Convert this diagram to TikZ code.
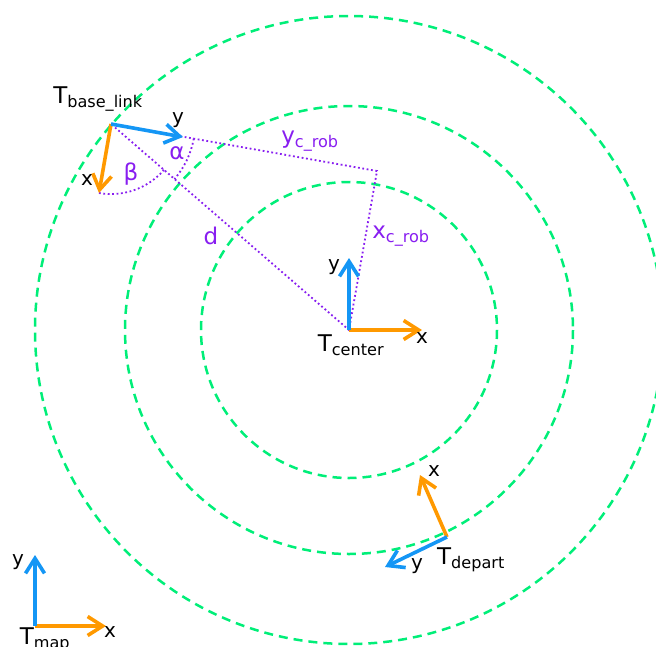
\documentclass[tikz,border=0pt]{standalone}
\usepackage{fontspec}
\setmainfont{DejaVu Sans}
\usetikzlibrary{arrows.meta}
\definecolor{axisorange}{RGB}{255,153,0}
\definecolor{axisblue}{RGB}{20,150,245}
\definecolor{ringgreen}{RGB}{0,238,120}
\definecolor{geopurple}{RGB}{136,30,240}

\begin{document}
\begin{tikzpicture}[x=1pt, y=-1pt,
  every node/.style={font=\fontsize{20}{24}\selectfont, inner sep=0pt},
  framelbl/.style={font=\fontsize{23}{27}\selectfont},
  geolbl/.style={font=\fontsize{23}{27}\selectfont, text=geopurple},
  xaxis/.style={draw=axisorange, line width=3.6pt, -{Straight Barb[length=15pt, width=19pt]}},
  yaxis/.style={xaxis, draw=axisblue},
  ring/.style={draw=ringgreen, line width=2.5pt, dash pattern=on 9pt off 6pt},
  geo/.style={draw=geopurple, line width=1.8pt, dash pattern=on 1.8pt off 2.6pt}]
  \useasboundingbox (0,0) rectangle (656,646);
  % rings round the center
  \coordinate (cen) at (349,330);
  \foreach \r in {148,224,314}
    \draw[ring] (cen) circle[radius=\r];
  % frame points
  \coordinate (base) at (111,124);
  \coordinate (basex) at (99,193);
  \coordinate (basey) at (183,137);
  \coordinate (corner) at (377,171);
  \coordinate (cenx) at (422,330);
  \coordinate (ceny) at (349,258);
  \coordinate (dep) at (447,537);
  \coordinate (depx) at (420,475);
  \coordinate (depy) at (385,567);
  \coordinate (map) at (35,626);
  \coordinate (mapx) at (106,626);
  \coordinate (mapy) at (35,555);
  % geometry
  \draw[geo] (base) -- (corner) -- (cen) -- (base);
  \draw[geo] (base) ++(10:84) arc[start angle=10, end angle=40.9, radius=84];
  \draw[geo] (basex) arc[start angle=99.9, end angle=40.9, radius=70];
  \node[geolbl] (alpha) at (177,153) {α};
  \node[geolbl] (beta) at (131,174) {β};
  \node[geolbl] (dlbl) at (211,236) {d};
  \node[geolbl] (yrob) at (310,141) {y\textsubscript{c\_rob}};
  \node[geolbl] (xrob) at (401,236) {x\textsubscript{c\_rob}};
  % frames
  \draw[xaxis] (base) -- (basex);
  \draw[yaxis] (base) -- (basey);
  \draw[xaxis] (cen) -- (cenx);
  \draw[yaxis] (cen) -- (ceny);
  \draw[xaxis] (dep) -- (depx);
  \draw[yaxis] (dep) -- (depy);
  \draw[xaxis] (map) -- (mapx);
  \draw[yaxis] (map) -- (mapy);
  \node (basexl) at (87,180) {x};
  \node (baseyl) at (178,120) {y};
  \node[framelbl] (basel) at (98,99) {T\textsubscript{base\_link}};
  \node (cenxl) at (422,338) {x};
  \node (cenyl) at (334,267) {y};
  \node[framelbl] (cenl) at (351,345) {T\textsubscript{center}};
  \node (depxl) at (434,471) {x};
  \node (depyl) at (417,566) {y};
  \node[framelbl] (depl) at (471,560) {T\textsubscript{depart}};
  \node (mapxl) at (110,632) {x};
  \node (mapyl) at (18,562) {y};
  \node[framelbl] (mapl) at (45,640) {T\textsubscript{map}};
\end{tikzpicture}
\end{document}
